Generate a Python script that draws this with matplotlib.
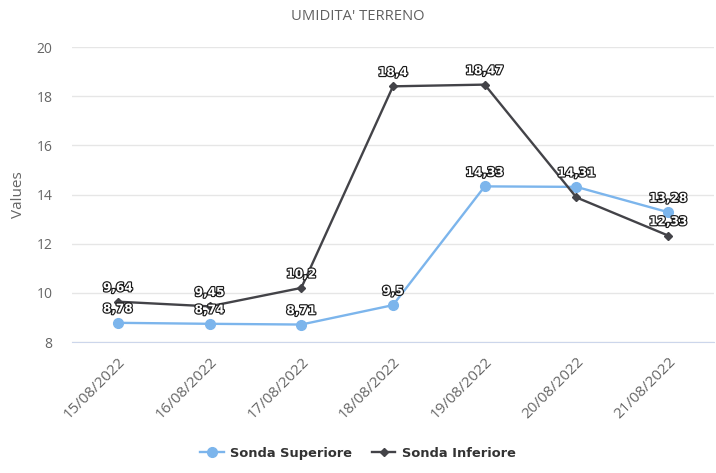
import numpy as np
import matplotlib
matplotlib.use("Agg")
import matplotlib.pyplot as plt
import matplotlib.patheffects as pe
import matplotlib.transforms as mtransforms
from matplotlib.lines import Line2D

# Dati
date = ["15/08/2022", "16/08/2022", "17/08/2022", "18/08/2022",
        "19/08/2022", "20/08/2022", "21/08/2022"]
sonda_superiore = [8.78, 8.74, 8.71, 9.5, 14.33, 14.31, 13.28]
sonda_inferiore = [9.64, 9.45, 10.2, 18.4, 18.47, 13.88, 12.33]
# etichetta nascosta nell'originale (sovrapposta)
inferiore_nascoste = [5]

y_ticks = [8, 10, 12, 14, 16, 18, 20]

col_sup = "#7cb5ec"
col_inf = "#434348"
grigio = "#666666"


def etichetta(ax, x, y, testo):
    t = ax.annotate(testo, (x, y), xytext=(0, 10), textcoords="offset points",
                    ha="center", va="center", fontsize=8.7, fontweight="bold",
                    color="white", family="DejaVu Sans", zorder=5)
    t.set_path_effects([pe.withStroke(linewidth=1.7, foreground="#1a1a1a")])


def formatta(v):
    return ("%g" % v).replace(".", ",")


fig = plt.figure(figsize=(7.16, 4.73), dpi=100)
ax = fig.add_axes([72 / 716, 1 - 342 / 473, 642 / 716, 295 / 473])

x = np.arange(len(date))
ax.plot(x, sonda_superiore, color=col_sup, linewidth=1.7, marker="o",
        markersize=7, zorder=3)
ax.plot(x, sonda_inferiore, color=col_inf, linewidth=1.7, marker="D",
        markersize=4.5, zorder=3)

for i, v in enumerate(sonda_superiore):
    etichetta(ax, i, v, formatta(v))
for i, v in enumerate(sonda_inferiore):
    if i not in inferiore_nascoste:
        etichetta(ax, i, v, formatta(v))

ax.set_xlim(-0.5, len(date) - 0.5)
ax.set_ylim(8, 20)
ax.set_yticks(y_ticks)
ax.set_xticks(x)
ax.set_xticklabels(date, rotation=45, ha="right", va="top", rotation_mode="anchor",
                   fontsize=10.9, color=grigio, family="Open Sans")
sposta = mtransforms.ScaledTranslation(-4 / 100, 0, fig.dpi_scale_trans)
for lab in ax.get_xticklabels():
    lab.set_transform(lab.get_transform() + sposta)
ax.tick_params(axis="x", length=0, pad=9)
ax.tick_params(axis="y", length=0, pad=14, labelsize=10, labelcolor=grigio)
for lab in ax.get_yticklabels():
    lab.set_family("Open Sans")

ax.grid(axis="y", color="#e6e6e6", linewidth=1)
ax.set_axisbelow(True)
for s in ["top", "right", "left"]:
    ax.spines[s].set_visible(False)
ax.spines["bottom"].set_color("#ccd6eb")
ax.spines["bottom"].set_zorder(2)

ax.set_ylabel("Values", fontsize=11, color=grigio, family="Open Sans", labelpad=7.5)
fig.text(358 / 716, 1 - 17 / 473, "UMIDITA' TERRENO", ha="center", va="center",
         fontsize=10.6, color="#606060", family="Open Sans")

handles = [Line2D([], [], color=col_sup, linewidth=1.7, marker="o", markersize=7),
           Line2D([], [], color=col_inf, linewidth=1.7, marker="D", markersize=4.5)]
leg = fig.legend(handles, ["Sonda Superiore", "Sonda Inferiore"], loc="center",
                 bbox_to_anchor=(0.5, 1 - 453 / 473), ncol=2, frameon=False,
                 handlelength=1.8, columnspacing=1.5, handletextpad=0.5,
                 prop={"family": "DejaVu Sans", "weight": "bold", "size": 9.4})
for t in leg.get_texts():
    t.set_color("#333333")

fig.savefig("out.png", dpi=100)
